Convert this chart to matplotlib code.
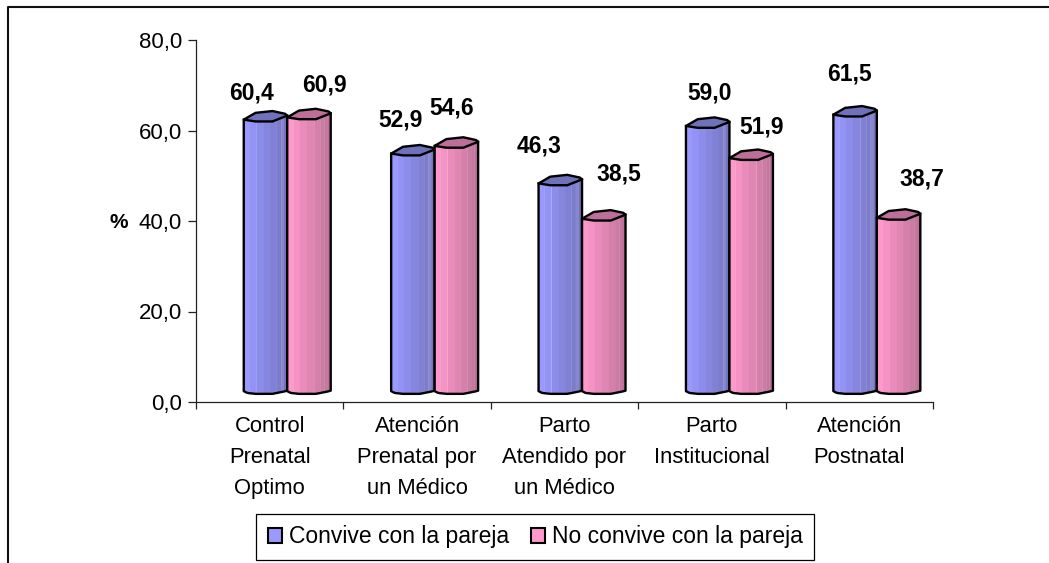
import numpy as np
import matplotlib
matplotlib.use("Agg")
import matplotlib.pyplot as plt
from matplotlib.lines import Line2D
from matplotlib.patches import Patch

categories = ["Control\nPrenatal\nOptimo", "Atención\nPrenatal por\nun Médico",
              "Parto\nAtendido por\nun Médico", "Parto\nInstitucional",
              "Atención\nPostnatal"]
series_names = ["Convive con la pareja", "No convive con la pareja"]
convive = [60.4, 52.9, 46.3, 59.0, 61.5]
no_convive = [60.9, 54.6, 38.5, 51.9, 38.7]
y_ticks = [0, 20, 40, 60, 80]

# label offsets from the bar's centre/top, in pixels
offs_convive = [(-14, 26.6), (-12, 33.6), (-21, 37), (2, 33), (-6, 41)]
offs_no = [(15, 32), (-5, 38), (15, 45), (10, 31), (23, 39)]

W, H = 1049, 563
plt.rcParams['font.family'] = ['Liberation Sans', 'DejaVu Sans']
fig = plt.figure(figsize=(W / 100, H / 100), dpi=100, facecolor='white')
L, R, T, B = 196, 933, 40, 402
ax = fig.add_axes([L / W, 1 - B / H, (R - L) / W, (B - T) / H])
ax.set_xlim(0, 5)
ax.set_ylim(0, 80)

BAR_W = 0.295
SHIFT = 0.119
BASE = 2.0
STRIP_EDGES = np.array([0, .14, .30, .46, .62, .76, .86, .92, 1.0])
BLUE = ['#9999FF', '#9393F5', '#8C8CEA', '#8686DF', '#8080D4', '#7C7CCB', '#8686D2', '#7474BC']
PINK = ['#FF99CC', '#F593C4', '#EA8CBB', '#DF86B2', '#D480AA', '#CB7CA3', '#C577A0', '#BF7098']
CAP = {'b': '#7070BB', 'p': '#BE6F99'}

front_u = [0, .27, .66, 1]
front_d = [0, -.4, -.4, .9]
bot_u = [0, .08, .27, .66, .92, 1]
bot_d = [.4, 0, -.2, -.2, .3, .5]
cap_u = [0, .27, .66, .95, 1, .66, .27]
cap_d = [0, 1.5, 1.9, 1.3, .9, -.4, -.4]


def draw_bar(left, val, cols, cap, z):
    top = BASE + val
    for a, b, c in zip(STRIP_EDGES[:-1], STRIP_EDGES[1:], cols):
        us = np.array([a, b])
        xs = left + us * BAR_W
        yt = top + np.interp(us, front_u, front_d)
        yb = BASE + np.interp(us, bot_u, bot_d)
        ax.fill([xs[0], xs[1], xs[1], xs[0]], [yb[0], yb[1], yt[1], yt[0]],
                facecolor=c, edgecolor=c, lw=0.2, zorder=z)
    # outline of sides and bottom
    u = np.linspace(0, 1, 30)
    xo = np.r_[left, left + u * BAR_W, left + BAR_W]
    yo = np.r_[top, BASE + np.interp(u, bot_u, bot_d), top + .9]
    ax.plot(xo, yo, color='black', lw=1.7, zorder=z + .1, solid_joinstyle='round')
    ax.fill(left + np.array(cap_u) * BAR_W, top + np.array(cap_d), facecolor=cap,
            edgecolor='black', lw=1.7, zorder=z + .2, joinstyle='round')


for i in range(5):
    c = i + .5 + SHIFT
    draw_bar(c - BAR_W, convive[i], BLUE, CAP['b'], 3)
    draw_bar(c, no_convive[i], PINK, CAP['p'], 4)
    for val, cen, off in ((convive[i], c - BAR_W / 2, offs_convive[i]),
                          (no_convive[i], c + BAR_W / 2, offs_no[i])):
        ax.annotate(f"{val:.1f}".replace('.', ','), (cen, BASE + val),
                    xytext=(off[0] * .72, off[1] * .72), textcoords='offset points',
                    ha='center', va='center', fontsize=16.5, fontweight='bold',
                    color='black', zorder=6)

for s in ('top', 'right'):
    ax.spines[s].set_visible(False)
for s in ('left', 'bottom'):
    ax.spines[s].set_linewidth(0.9)
    ax.spines[s].set_color('#222222')

ax.set_yticks(y_ticks)
ax.set_yticklabels([f"{v:.1f}".replace('.', ',') for v in y_ticks], fontsize=16)
ax.tick_params(axis='y', length=6, width=0.9, pad=4, color='#222222')
ax.set_xticks(range(6))
ax.set_xticklabels([])
ax.tick_params(axis='x', which='major', length=5, width=0.9, color='#222222')
ax.set_xticks(np.arange(5) + .5, minor=True)
ax.set_xticklabels(categories, minor=True, fontsize=15.8, linespacing=1.62,
                   va='top', ha='center')
ax.tick_params(axis='x', which='minor', length=0, pad=10)

fig.text(119 / W, 1 - 222 / H, '%', fontsize=15, fontweight='bold', ha='center', va='center')

fig.add_artist(Line2D([8 / W, 8 / W, 1], [0, 1 - 7 / H, 1 - 7 / H], color='#111111', lw=1.5))

handles = [Patch(facecolor='#9999FF', edgecolor='black', lw=1.5),
           Patch(facecolor='#FF99CC', edgecolor='black', lw=1.5)]
leg = fig.legend(handles, series_names, ncol=2, loc='center',
                 bbox_to_anchor=(535 / W, 1 - 537 / H), fontsize=16.5, frameon=True,
                 fancybox=False, edgecolor='black', framealpha=1, borderpad=.5,
                 handlelength=.62, handleheight=.62, handletextpad=.3, columnspacing=.95)
leg.get_frame().set_linewidth(.9)

fig.savefig('out.png', dpi=100, facecolor='white')
